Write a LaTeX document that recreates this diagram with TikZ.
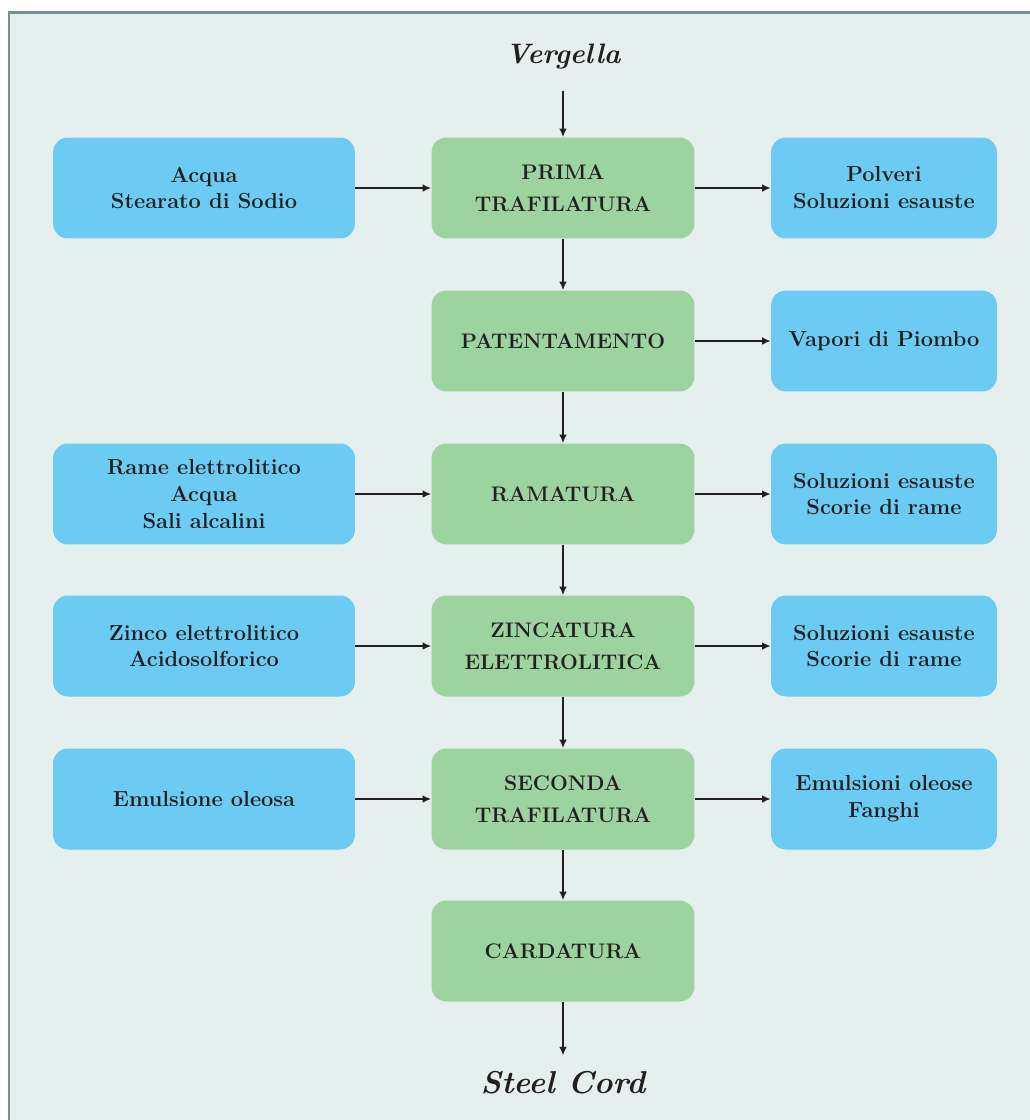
\documentclass[tikz,border=0pt]{standalone}
\usetikzlibrary{arrows.meta}
\definecolor{sfondo}{RGB}{229,239,238}
\definecolor{cornice}{RGB}{112,146,146}
\definecolor{azzurro}{RGB}{108,203,242}
\definecolor{verde}{RGB}{157,211,158}
\definecolor{inchiostro}{RGB}{35,31,32}

\begin{document}
\begin{tikzpicture}[x=0.02cm, y=-0.02cm,
        fase/.style={fill=verde, rounded corners=0.3cm, minimum width=5.26cm, minimum height=2.02cm,
          align=center, text=inchiostro, font=\bfseries\fontsize{12}{18.5}\selectfont},
        ingresso/.style={fill=azzurro, rounded corners=0.3cm, minimum width=6.04cm, minimum height=2.02cm,
          align=center, text=inchiostro, font=\bfseries\fontsize{12.4}{15.3}\selectfont},
        uscita/.style={ingresso, minimum width=4.52cm},
        estremo/.style={text=inchiostro, font=\bfseries\itshape},
        freccia/.style={draw=inchiostro, line width=0.8pt, -{Latex[length=1.7mm,width=1.5mm]}}
        ]
        \useasboundingbox (0,0) rectangle (1030,1120);
        \fill [white] (0,0) rectangle (1030,1120);
        \draw [cornice, line width=0.06cm, fill=sfondo] (9,12) rectangle (1080,1160);
        % colonna centrale
        \node [estremo, font=\bfseries\itshape\fontsize{16}{18}\selectfont, name=ve] at (563,57) {Vergella};
        \node [fase, name=pt] at (563,188) {PRIMA\\TRAFILATURA};
        \node [fase, name=pa] at (563,341) {PATENTAMENTO};
        \node [fase, name=ra] at (563,494) {RAMATURA};
        \node [fase, name=zi] at (563,646) {ZINCATURA\\ELETTROLITICA};
        \node [fase, name=se] at (563,799) {SECONDA\\TRAFILATURA};
        \node [fase, name=ca] at (563,951) {CARDATURA};
        \node [estremo, font=\bfseries\itshape\fontsize{18}{20}\selectfont, name=sc] at (563,1083) {Steel Cord};
        % materiali in ingresso
        \node [ingresso, name=lpt] at (204,188) {Acqua\\Stearato di Sodio};
        \node [ingresso, name=lra] at (204,494) {Rame elettrolitico\\Acqua\\Sali alcalini};
        \node [ingresso, name=lzi] at (204,646) {Zinco elettrolitico\\Acidosolforico};
        \node [ingresso, name=lse] at (204,799) {Emulsione oleosa};
        % scarti in uscita
        \node [uscita, name=rpt] at (884,188) {Polveri\\Soluzioni esauste};
        \node [uscita, name=rpa] at (884,341) {Vapori di Piombo};
        \node [uscita, name=rra] at (884,494) {Soluzioni esauste\\Scorie di rame};
        \node [uscita, name=rzi] at (884,646) {Soluzioni esauste\\Scorie di rame};
        \node [uscita, name=rse] at (884,799) {Emulsioni oleose\\Fanghi};
        % frecce
        \draw [freccia, shorten <=0.3cm] (ve) -- (pt);
        \draw [freccia] (pt) -- (pa);
        \draw [freccia] (pa) -- (ra);
        \draw [freccia] (ra) -- (zi);
        \draw [freccia] (zi) -- (se);
        \draw [freccia] (se) -- (ca);
        \draw [freccia, shorten >=0.2cm] (ca) -- (sc);
        \draw [freccia] (lpt) -- (pt);
        \draw [freccia] (lra) -- (ra);
        \draw [freccia] (lzi) -- (zi);
        \draw [freccia] (lse) -- (se);
        \draw [freccia] (pt) -- (rpt);
        \draw [freccia] (pa) -- (rpa);
        \draw [freccia] (ra) -- (rra);
        \draw [freccia] (zi) -- (rzi);
        \draw [freccia] (se) -- (rse);
\end{tikzpicture}
\end{document}
